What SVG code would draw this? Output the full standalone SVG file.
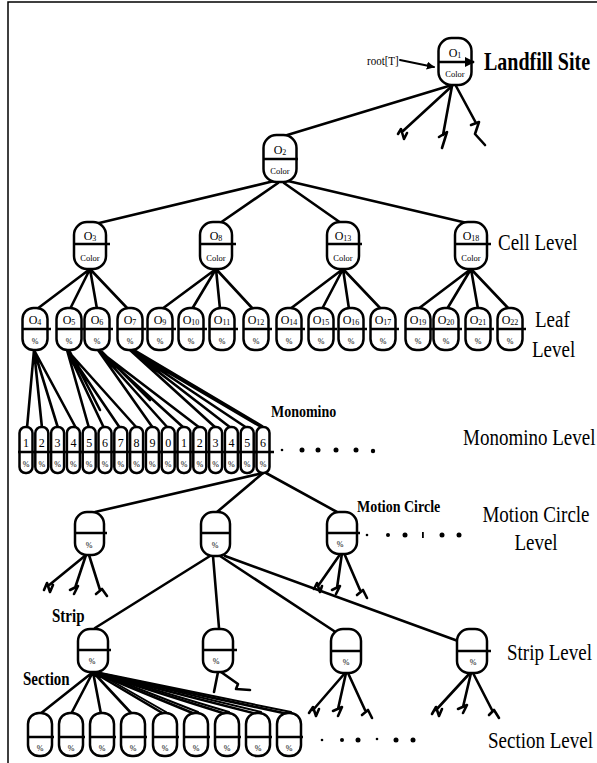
<svg xmlns="http://www.w3.org/2000/svg" width="597" height="763" viewBox="0 0 597 763">
<defs>
<style>
.n{fill:#fff;stroke:#000;stroke-width:2.5}
.d{stroke:#000;stroke-width:2.5}
.e{fill:none;stroke:#000;stroke-width:2.6;stroke-linecap:round;stroke-linejoin:round}
.t{font-family:"Liberation Serif","Times New Roman",serif;fill:#000}
.lb{font-family:"Liberation Serif","Times New Roman",serif;font-size:19px;fill:#000}
.bl{font-family:"Liberation Serif","Times New Roman",serif;font-weight:bold;fill:#000}
.o{font-size:12px;text-anchor:middle}
.c{font-size:8.5px;text-anchor:middle}
.p{font-size:8px;text-anchor:middle}
.m{font-size:12px;text-anchor:middle}
</style>
<marker id="ar" viewBox="0 0 10 10" refX="9" refY="5" markerWidth="4" markerHeight="4" orient="auto"><path d="M0,0 L10,5 L0,10 z" fill="#000"/></marker>
</defs>
<rect width="597" height="763" fill="#fff"/>
<g id="frame" stroke="#000" stroke-width="1.5" fill="none">
<path d="M8,763 L8,2 L597,2"/>
</g>

<g id="connectors" class="e">
<path d="M400,60 L434,67" stroke-width="2" marker-end="url(#ar)"/>
<path d="M452,85 L284,136"/>
<path d="M452,86 L403,131 M398,134 L401,129 L404,139 L407,133"/>
<path d="M452,86 L443,135 M439,137 L447,132 L442,148"/>
<path d="M456,86 L476,123 M471,125 L479,122 L475,134 L485,145"/>
<path d="M274,181 L95,224"/>
<path d="M278,183 L220,223"/>
<path d="M284,183 L341,223"/>
<path d="M288,181 L467,223"/>
<path d="M90,269 L37,309 M90,269 L70,309 M90,269 L97,309 M90,269 L128,309"/>
<path d="M216,269 L162,309 M216,269 L192,309 M216,269 L220,309 M216,269 L253,309"/>
<path d="M343,269 L290,309 M343,269 L322,309 M343,269 L349,309 M343,269 L381,309"/>
<path d="M471,269 L418,309 M471,269 L447,309 M471,269 L478,309 M471,269 L509,309"/>
<path d="M34,350 L27,428 M34,350 L42,428 M34,350 L58,428 M34,350 L76,428"/>
<path d="M67,350 L89,428 M67,350 L104,428 M67,350 L120,428 M67,350 L137,428 M70,352 L100,410"/>
<path d="M98,350 L153,428 M98,350 L168,428 M98,350 L184,428 M98,350 L200,428 M102,352 L150,400"/>
<path d="M130,350 L216,428 M130,350 L231,428 M130,350 L247,428 M130,350 L263,428 M134,350 L262,426"/>
<path d="M263,473 L95,512"/>
<path d="M263,473 L217,512"/>
<path d="M266,473 L337,512"/>
<path d="M86,555 L48,586 M44,590 L47,583 L50,592 L53,585"/>
<path d="M86,555 L75,588 M70,590 L78,586 L74,594"/>
<path d="M89,555 L100,590 M96,594 L102,589 L107,596"/>
<path d="M341,553 L318,586 M314,589 L317,583 L320,592 L322,586"/>
<path d="M342,553 L337,588 M332,590 L340,586 L336,594"/>
<path d="M344,553 L360,590 M357,595 L363,590 L367,598"/>
<path d="M210,556 L95,628"/>
<path d="M213,556 L219,628"/>
<path d="M220,556 L334,631"/>
<path d="M225,556 L458,641"/>
<path d="M218,672 L214,692 M221,672 L238,684 L236,689 L250,690"/>
<path d="M345,673 L313,710 M309,713 L313,707 L316,716 L319,709"/>
<path d="M346,673 L338,709 M333,711 L342,707 L338,716"/>
<path d="M348,673 L365,710 M362,715 L368,710 L372,718"/>
<path d="M470,673 L436,710 M432,714 L436,707 L439,716 L442,709"/>
<path d="M471,673 L463,707 M458,709 L467,705 L463,713"/>
<path d="M473,673 L492,710 M489,715 L494,710 L499,718"/>
<path d="M93,672 L40,714 M93,672 L71,714 M93,672 L101,714 M93,672 L132,714 M93,672 L164,714 M93,672 L195,714 M93,672 L226,714 M93,672 L257,714 M93,672 L288,714"/>
<path d="M96,672 L166,712 M96,672 L198,712 M96,672 L229,712 M96,672 L261,712 M96,672 L291,712" stroke-width="2"/>
</g>

<g id="n-root">
<rect class="n" x="438.5" y="38" width="33" height="47" rx="13"/>
<path class="d" d="M438,62 L474,62" marker-end="url(#ar)"/>
<text class="t o" x="455" y="57">O<tspan font-size="8" dy="1">1</tspan></text>
<text class="t c" x="455" y="77">Color</text>
</g>
<g id="n-o2">
<rect class="n" x="263.5" y="135" width="33" height="47" rx="13"/>
<path class="d" d="M263,159 L298,159"/>
<text class="t o" x="280" y="154">O<tspan font-size="8" dy="1">2</tspan></text>
<text class="t c" x="280" y="174">Color</text>
</g>
<g id="n-o3">
<rect class="n" x="74" y="222" width="32" height="47" rx="13"/>
<path class="d" d="M74,244 L110,244"/>
<text class="t o" x="90" y="240">O<tspan font-size="8" dy="1">3</tspan></text>
<text class="t c" x="90" y="261">Color</text>
</g>
<g id="n-o8">
<rect class="n" x="200" y="222" width="32" height="47" rx="13"/>
<path class="d" d="M200,244 L236,244"/>
<text class="t o" x="216" y="240">O<tspan font-size="8" dy="1">8</tspan></text>
<text class="t c" x="216" y="261">Color</text>
</g>
<g id="n-o13">
<rect class="n" x="327" y="222" width="32" height="47" rx="13"/>
<path class="d" d="M327,244 L362,244"/>
<text class="t o" x="343" y="240">O<tspan font-size="8" dy="1">13</tspan></text>
<text class="t c" x="343" y="261">Color</text>
</g>
<g id="n-o18">
<rect class="n" x="455" y="222" width="32" height="47" rx="13"/>
<path class="d" d="M455,244 L491,244"/>
<text class="t o" x="471" y="240">O<tspan font-size="8" dy="1">18</tspan></text>
<text class="t c" x="471" y="261">Color</text>
</g>

<g id="leaves">
<g id="n-o4"><rect class="n" x="22.5" y="308" width="25" height="42" rx="11"/><path class="d" d="M22,329 L51,329"/><text class="t o" x="35" y="324">O<tspan font-size="8" dy="1">4</tspan></text><text class="t p" x="35" y="344">%</text></g>
<g id="n-o5"><rect class="n" x="56.5" y="308" width="25" height="42" rx="11"/><path class="d" d="M56,329 L85,329"/><text class="t o" x="69" y="324">O<tspan font-size="8" dy="1">5</tspan></text><text class="t p" x="69" y="344">%</text></g>
<g id="n-o6"><rect class="n" x="84.5" y="308" width="25" height="42" rx="11"/><path class="d" d="M84,329 L113,329"/><text class="t o" x="97" y="324">O<tspan font-size="8" dy="1">6</tspan></text><text class="t p" x="97" y="344">%</text></g>
<g id="n-o7"><rect class="n" x="117.5" y="308" width="25" height="42" rx="11"/><path class="d" d="M117,329 L146,329"/><text class="t o" x="130" y="324">O<tspan font-size="8" dy="1">7</tspan></text><text class="t p" x="130" y="344">%</text></g>
<g id="n-o9"><rect class="n" x="147.5" y="308" width="25" height="42" rx="11"/><path class="d" d="M147,329 L176,329"/><text class="t o" x="160" y="324">O<tspan font-size="8" dy="1">9</tspan></text><text class="t p" x="160" y="344">%</text></g>
<g id="n-o10"><rect class="n" x="178.5" y="308" width="25" height="42" rx="11"/><path class="d" d="M178,329 L207,329"/><text class="t o" x="191" y="324">O<tspan font-size="8" dy="1">10</tspan></text><text class="t p" x="191" y="344">%</text></g>
<g id="n-o11"><rect class="n" x="209.5" y="308" width="25" height="42" rx="11"/><path class="d" d="M209,329 L238,329"/><text class="t o" x="222" y="324">O<tspan font-size="8" dy="1">11</tspan></text><text class="t p" x="222" y="344">%</text></g>
<g id="n-o12"><rect class="n" x="243.5" y="308" width="25" height="42" rx="11"/><path class="d" d="M243,329 L272,329"/><text class="t o" x="256" y="324">O<tspan font-size="8" dy="1">12</tspan></text><text class="t p" x="256" y="344">%</text></g>
<g id="n-o14"><rect class="n" x="276.5" y="308" width="25" height="42" rx="11"/><path class="d" d="M276,329 L305,329"/><text class="t o" x="289" y="324">O<tspan font-size="8" dy="1">14</tspan></text><text class="t p" x="289" y="344">%</text></g>
<g id="n-o15"><rect class="n" x="308.5" y="308" width="25" height="42" rx="11"/><path class="d" d="M308,329 L337,329"/><text class="t o" x="321" y="324">O<tspan font-size="8" dy="1">15</tspan></text><text class="t p" x="321" y="344">%</text></g>
<g id="n-o16"><rect class="n" x="338.5" y="308" width="25" height="42" rx="11"/><path class="d" d="M338,329 L367,329"/><text class="t o" x="351" y="324">O<tspan font-size="8" dy="1">16</tspan></text><text class="t p" x="351" y="344">%</text></g>
<g id="n-o17"><rect class="n" x="370.5" y="308" width="25" height="42" rx="11"/><path class="d" d="M370,329 L399,329"/><text class="t o" x="383" y="324">O<tspan font-size="8" dy="1">17</tspan></text><text class="t p" x="383" y="344">%</text></g>
<g id="n-o19"><rect class="n" x="405.5" y="308" width="25" height="42" rx="11"/><path class="d" d="M405,329 L434,329"/><text class="t o" x="418" y="324">O<tspan font-size="8" dy="1">19</tspan></text><text class="t p" x="418" y="344">%</text></g>
<g id="n-o20"><rect class="n" x="433.5" y="308" width="25" height="42" rx="11"/><path class="d" d="M433,329 L462,329"/><text class="t o" x="446" y="324">O<tspan font-size="8" dy="1">20</tspan></text><text class="t p" x="446" y="344">%</text></g>
<g id="n-o21"><rect class="n" x="465.5" y="308" width="25" height="42" rx="11"/><path class="d" d="M465,329 L494,329"/><text class="t o" x="478" y="324">O<tspan font-size="8" dy="1">21</tspan></text><text class="t p" x="478" y="344">%</text></g>
<g id="n-o22"><rect class="n" x="497.5" y="308" width="25" height="42" rx="11"/><path class="d" d="M497,329 L526,329"/><text class="t o" x="510" y="324">O<tspan font-size="8" dy="1">22</tspan></text><text class="t p" x="510" y="344">%</text></g>
</g>

<g id="monominos">
<g id="m1"><rect class="n" x="19.5" y="427" width="13" height="46" rx="6"/><path class="d" d="M18,452 L35,452"/><text class="t m" x="26" y="447">1</text><text class="t p" x="26" y="467">%</text></g>
<g id="m2"><rect class="n" x="35.3" y="427" width="13" height="46" rx="6"/><path class="d" d="M34,452 L51,452"/><text class="t m" x="41.8" y="447">2</text><text class="t p" x="41.8" y="467">%</text></g>
<g id="m3"><rect class="n" x="51.1" y="427" width="13" height="46" rx="6"/><path class="d" d="M50,452 L67,452"/><text class="t m" x="57.6" y="447">3</text><text class="t p" x="57.6" y="467">%</text></g>
<g id="m4"><rect class="n" x="66.9" y="427" width="13" height="46" rx="6"/><path class="d" d="M66,452 L83,452"/><text class="t m" x="73.4" y="447">4</text><text class="t p" x="73.4" y="467">%</text></g>
<g id="m5"><rect class="n" x="82.7" y="427" width="13" height="46" rx="6"/><path class="d" d="M81,452 L98,452"/><text class="t m" x="89.2" y="447">5</text><text class="t p" x="89.2" y="467">%</text></g>
<g id="m6"><rect class="n" x="98.5" y="427" width="13" height="46" rx="6"/><path class="d" d="M97,452 L114,452"/><text class="t m" x="105" y="447">6</text><text class="t p" x="105" y="467">%</text></g>
<g id="m7"><rect class="n" x="114.3" y="427" width="13" height="46" rx="6"/><path class="d" d="M113,452 L130,452"/><text class="t m" x="120.8" y="447">7</text><text class="t p" x="120.8" y="467">%</text></g>
<g id="m8"><rect class="n" x="130.1" y="427" width="13" height="46" rx="6"/><path class="d" d="M129,452 L146,452"/><text class="t m" x="136.6" y="447">8</text><text class="t p" x="136.6" y="467">%</text></g>
<g id="m9"><rect class="n" x="145.9" y="427" width="13" height="46" rx="6"/><path class="d" d="M145,452 L162,452"/><text class="t m" x="152.4" y="447">9</text><text class="t p" x="152.4" y="467">%</text></g>
<g id="m10"><rect class="n" x="161.7" y="427" width="13" height="46" rx="6"/><path class="d" d="M160,452 L177,452"/><text class="t m" x="168.2" y="447">0</text><text class="t p" x="168.2" y="467">%</text></g>
<g id="m11"><rect class="n" x="177.5" y="427" width="13" height="46" rx="6"/><path class="d" d="M176,452 L193,452"/><text class="t m" x="184" y="447">1</text><text class="t p" x="184" y="467">%</text></g>
<g id="m12"><rect class="n" x="193.3" y="427" width="13" height="46" rx="6"/><path class="d" d="M192,452 L209,452"/><text class="t m" x="199.8" y="447">2</text><text class="t p" x="199.8" y="467">%</text></g>
<g id="m13"><rect class="n" x="209.1" y="427" width="13" height="46" rx="6"/><path class="d" d="M208,452 L225,452"/><text class="t m" x="215.6" y="447">3</text><text class="t p" x="215.6" y="467">%</text></g>
<g id="m14"><rect class="n" x="224.9" y="427" width="13" height="46" rx="6"/><path class="d" d="M224,452 L241,452"/><text class="t m" x="231.4" y="447">4</text><text class="t p" x="231.4" y="467">%</text></g>
<g id="m15"><rect class="n" x="240.7" y="427" width="13" height="46" rx="6"/><path class="d" d="M239,452 L256,452"/><text class="t m" x="247.2" y="447">5</text><text class="t p" x="247.2" y="467">%</text></g>
<g id="m16"><rect class="n" x="256.5" y="427" width="13" height="46" rx="6"/><path class="d" d="M255,452 L274,452"/><text class="t m" x="263" y="447">6</text><text class="t p" x="263" y="467">%</text></g>
</g>

<g id="mono-dots" fill="#000">
<circle cx="282" cy="450" r="1.3"/><circle cx="302" cy="450" r="2.5"/><circle cx="318" cy="450" r="2.5"/><circle cx="336" cy="450" r="2.5"/><circle cx="356" cy="450" r="2.5"/><circle cx="373" cy="451" r="2.2"/>
</g>

<g id="motion">
<g id="mc1"><rect class="n" x="75" y="512" width="29" height="43" rx="12"/><path class="d" d="M75,533 L107,533"/><text class="t p" x="89" y="548">%</text></g>
<g id="mc2"><rect class="n" x="201" y="512" width="29" height="44" rx="12"/><path class="d" d="M201,533 L230,533"/><text class="t p" x="215" y="548">%</text></g>
<g id="mc3"><rect class="n" x="327" y="512" width="30" height="42" rx="12"/><path class="d" d="M327,533 L360,533"/><text class="t p" x="340" y="547">%</text></g>
</g>
<g id="motion-dots" fill="#000">
<circle cx="367" cy="535" r="1.3"/><circle cx="388" cy="535" r="2"/><circle cx="405" cy="535" r="2.5"/><rect x="422" y="532" width="1.8" height="6"/><circle cx="442" cy="535" r="2.5"/><circle cx="459" cy="535" r="2.5"/>
</g>

<g id="strips">
<g id="s1"><rect class="n" x="78" y="629" width="30" height="43" rx="12"/><path class="d" d="M78,650 L111,650"/><text class="t p" x="92" y="664">%</text></g>
<g id="s2"><rect class="n" x="203" y="629" width="30" height="43" rx="12"/><path class="d" d="M203,650 L237,650"/><text class="t p" x="216" y="664">%</text></g>
<g id="s3"><rect class="n" x="331" y="629" width="30" height="44" rx="12"/><path class="d" d="M331,651 L361,651"/><text class="t p" x="346" y="665">%</text></g>
<g id="s4"><rect class="n" x="457" y="629" width="30" height="44" rx="12"/><path class="d" d="M457,651 L491,651"/><text class="t p" x="473" y="665">%</text></g>
</g>

<g id="sections">
<g id="sec1"><rect class="n" x="28" y="713" width="24" height="43" rx="11"/><path class="d" d="M27,737 L54,737"/><text class="t p" x="40" y="751">%</text></g>
<g id="sec2"><rect class="n" x="59" y="713" width="24" height="43" rx="11"/><path class="d" d="M58,737 L85,737"/><text class="t p" x="71" y="751">%</text></g>
<g id="sec3"><rect class="n" x="90" y="713" width="24" height="43" rx="11"/><path class="d" d="M89,737 L116,737"/><text class="t p" x="102" y="751">%</text></g>
<g id="sec4"><rect class="n" x="121" y="713" width="24" height="43" rx="11"/><path class="d" d="M120,737 L147,737"/><text class="t p" x="133" y="751">%</text></g>
<g id="sec5"><rect class="n" x="153" y="713" width="24" height="43" rx="11"/><path class="d" d="M152,737 L179,737"/><text class="t p" x="165" y="751">%</text></g>
<g id="sec6"><rect class="n" x="184" y="713" width="24" height="43" rx="11"/><path class="d" d="M183,737 L210,737"/><text class="t p" x="196" y="751">%</text></g>
<g id="sec7"><rect class="n" x="215" y="713" width="24" height="43" rx="11"/><path class="d" d="M214,737 L241,737"/><text class="t p" x="227" y="751">%</text></g>
<g id="sec8"><rect class="n" x="246" y="713" width="24" height="43" rx="11"/><path class="d" d="M245,737 L272,737"/><text class="t p" x="258" y="751">%</text></g>
<g id="sec9"><rect class="n" x="277" y="713" width="24" height="43" rx="11"/><path class="d" d="M276,737 L303,737"/><text class="t p" x="289" y="751">%</text></g>
</g>
<g id="section-dots" fill="#000">
<circle cx="322" cy="740" r="1.3"/><circle cx="342" cy="740" r="2"/><circle cx="358" cy="740" r="2.5"/><circle cx="377" cy="739" r="1.3"/><circle cx="396" cy="740" r="2.5"/><circle cx="413" cy="740" r="2.5"/>
</g>

<g id="labels">
<text class="t" transform="translate(367,65) scale(1,1.2)" font-size="11">root[T]</text>
<text class="bl" transform="translate(484,70) scale(1,1.25)" font-size="20">Landfill Site</text>
<text class="lb" transform="translate(498,250) scale(1,1.25)">Cell Level</text>
<text class="lb" transform="translate(535,327) scale(1,1.25)">Leaf</text>
<text class="lb" transform="translate(532,357) scale(1,1.25)">Level</text>
<text class="bl" transform="translate(271,417) scale(1,1.25)" font-size="14">Monomino</text>
<text class="lb" transform="translate(463,445) scale(1,1.25)">Monomino Level</text>
<text class="bl" transform="translate(357,512) scale(1,1.25)" font-size="14">Motion Circle</text>
<text class="lb" transform="translate(536,522) scale(1,1.25)" text-anchor="middle">Motion Circle</text>
<text class="lb" transform="translate(536,550) scale(1,1.25)" text-anchor="middle">Level</text>
<text class="bl" transform="translate(52,622) scale(1,1.25)" font-size="15">Strip</text>
<text class="lb" transform="translate(507,660) scale(1,1.25)">Strip Level</text>
<text class="bl" transform="translate(23,685) scale(1,1.25)" font-size="15">Section</text>
<text class="lb" transform="translate(488,748) scale(1,1.25)">Section Level</text>
</g>
</svg>
